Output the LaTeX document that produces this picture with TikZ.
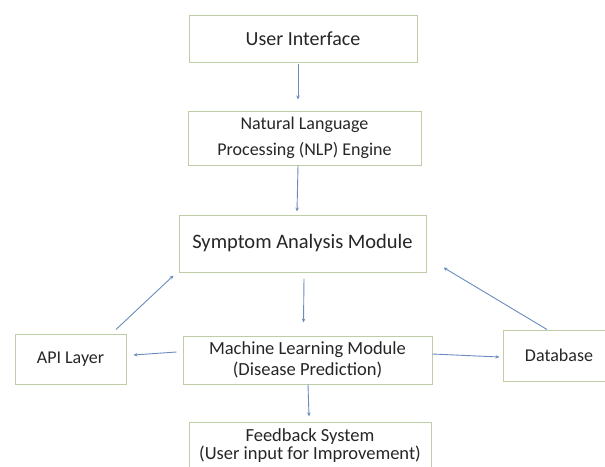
\documentclass[tikz,border=0pt]{standalone}
\usepackage{fontspec}
\setmainfont{Carlito}
\usetikzlibrary{calc,arrows.meta}
\definecolor{boxline}{HTML}{BFCDA6}
\definecolor{arrowline}{HTML}{6A8CBF}

\begin{document}
\begin{tikzpicture}[x=1pt,y=-1pt,line width=0.8pt,
  box/.style={draw=boxline,line width=1pt,align=center,inner sep=0pt,text=black!85},
  arr/.style={draw=arrowline,line width=0.9pt,-{Stealth[length=4pt,width=3.5pt]}}]
  \useasboundingbox (0,0) rectangle (605,466);

  \node[box,minimum width=228pt,minimum height=47pt,font=\fontsize{20}{24}\selectfont]
    (ui) at (303,38.5) {User Interface};
  \node[box,minimum width=233pt,minimum height=54pt,font=\fontsize{18}{26}\selectfont]
    (nlp) at (304.5,138) {Natural Language\\Processing (NLP) Engine};
  \node[box,minimum width=247pt,minimum height=57pt,font=\fontsize{20.5}{24}\selectfont]
    (sam) at (302.5,243.5) {Symptom Analysis Module};
  \node[box,minimum width=249pt,minimum height=48pt,font=\fontsize{18.5}{21}\selectfont]
    (ml) at (307.5,360) {Machine Learning Module\\(Disease Prediction)};
  \node[box,minimum width=111pt,minimum height=50pt,font=\fontsize{18}{22}\selectfont]
    (api) at (70.5,359) {API Layer};
  \node[box,minimum width=112pt,minimum height=51pt,font=\fontsize{18}{22}\selectfont]
    (db) at (559,355.5) {Database};
  \node[box,minimum width=242pt,minimum height=47pt,font=\fontsize{18.5}{17.5}\selectfont]
    (fb) at (310,445.5) {Feedback System\\(User input for Improvement)};

  \draw[arr] ($(ui.south)+(-5,1)$) -- ($(nlp.north)+(-6.5,-11)$);
  \draw[arr] ($(nlp.south)+(-6.5,0)$) -- ($(sam.north)+(-5.5,-3)$);
  \draw[arr] ($(sam.south)+(1.5,6)$) -- ($(ml.north)+(-4,-13)$);
  \draw[arr] ($(ml.west)+(-6,-8)$) -- ($(api.east)+(7,-4)$);
  \draw[arr] ($(ml.east)+(0,-6)$) -- ($(db.west)+(-3,1.5)$);
  \draw[arr] ($(api.north)+(45.5,-4)$) -- ($(sam.south west)+(-5,3)$);
  \draw[arr] ($(db.north)+(-12,0)$) -- ($(sam.south east)+(17,-5)$);
  \draw[arr] ($(ml.south)+(0.5,0)$) -- ($(fb.north)+(-1,-5)$);
\end{tikzpicture}
\end{document}
